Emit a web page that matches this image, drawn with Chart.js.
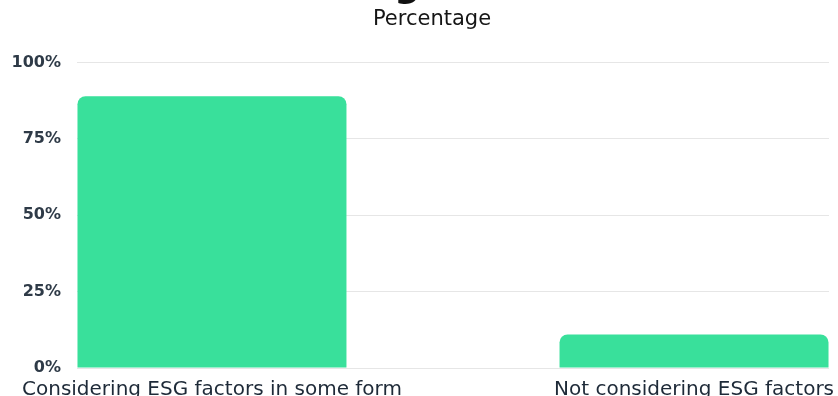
<!DOCTYPE html>
<html><head><meta charset="utf-8">
<script src="https://cdn.jsdelivr.net/npm/chart.js@4/dist/chart.umd.min.js"></script>
<style>
html,body{margin:0;padding:0;width:838px;height:396px;overflow:hidden;background:#fff;}
#wrap{position:absolute;left:0;top:-31px;width:838px;height:443px;}
</style></head><body>
<div id="wrap"><canvas id="c"></canvas></div>
<script>
const titleText = 'Using ESG Factors';
const subtitleText = 'Percentage';
const categories = ['Considering ESG factors in some form', 'Not considering ESG factors'];
const values = [89, 11];
const yTickStep = 25;
const yMax = 100;

const FONT = '"DejaVu Sans", sans-serif';
const points = categories.map((c, i) => ({x: i, y: values[i]}));

// centre the heading texts where the reference has them
const titleCentres = {title: 490, subtitle: 432};
const centreTitles = {
  id: 'centreTitles',
  afterLayout(chart) {
    chart.boxes.forEach(b => {
      if (b.position === 'top' && b.options && typeof b.options.text === 'string') {
        const c = b.options.text === titleText ? titleCentres.title : titleCentres.subtitle;
        const w = b.right - b.left;
        b.left = c - w / 2;
        b.right = c + w / 2;
      }
    });
  }
};

new Chart(document.getElementById('c'), {
  type: 'bar',
  data: {
    datasets: [{
      data: points,
      backgroundColor: '#39e09b',
      borderRadius: 8,
      borderSkipped: 'start',
      categoryPercentage: 1,
      barPercentage: 0.558
    }]
  },
  plugins: [centreTitles],
  options: {
    responsive: true,
    maintainAspectRatio: false,
    animation: false,
    devicePixelRatio: 1,
    layout: {padding: {left: 0, right: 9, top: 0, bottom: 0}},
    plugins: {
      legend: {display: false},
      tooltip: {enabled: false},
      title: {display: true, text: titleText, color: '#111', padding: 0,
        font: {family: FONT, size: 36, weight: 'bold', lineHeight: 1.01}},
      subtitle: {display: true, text: subtitleText, color: '#151515', padding: {top: 2, bottom: 30},
        font: {family: FONT, size: 21, weight: 'normal', lineHeight: 1.2}}
    },
    scales: {
      x: {
        type: 'linear', min: -0.28, max: 1.28, offset: false,
        grid: {display: false, drawTicks: false, offset: false},
        border: {display: false},
        ticks: {stepSize: 1, includeBounds: false, autoSkip: false, maxRotation: 0, padding: 10,
          color: '#1e2a38', font: {family: FONT, size: 20, weight: 'normal', lineHeight: 1.2},
          callback: v => (categories[v] !== undefined ? categories[v] : '')},
        afterFit: s => { s.paddingLeft = 0; s.paddingRight = 0; }
      },
      y: {
        min: 0, max: yMax,
        grid: {color: '#e6e6e6', drawTicks: false},
        border: {display: false},
        ticks: {stepSize: yTickStep, padding: 16, color: '#2e3a47',
          font: {family: FONT, size: 16, weight: 'bold'},
          callback: v => v + '%'},
        afterFit: s => { s.width = 77; }
      }
    }
  }
});
</script>
</body></html>
